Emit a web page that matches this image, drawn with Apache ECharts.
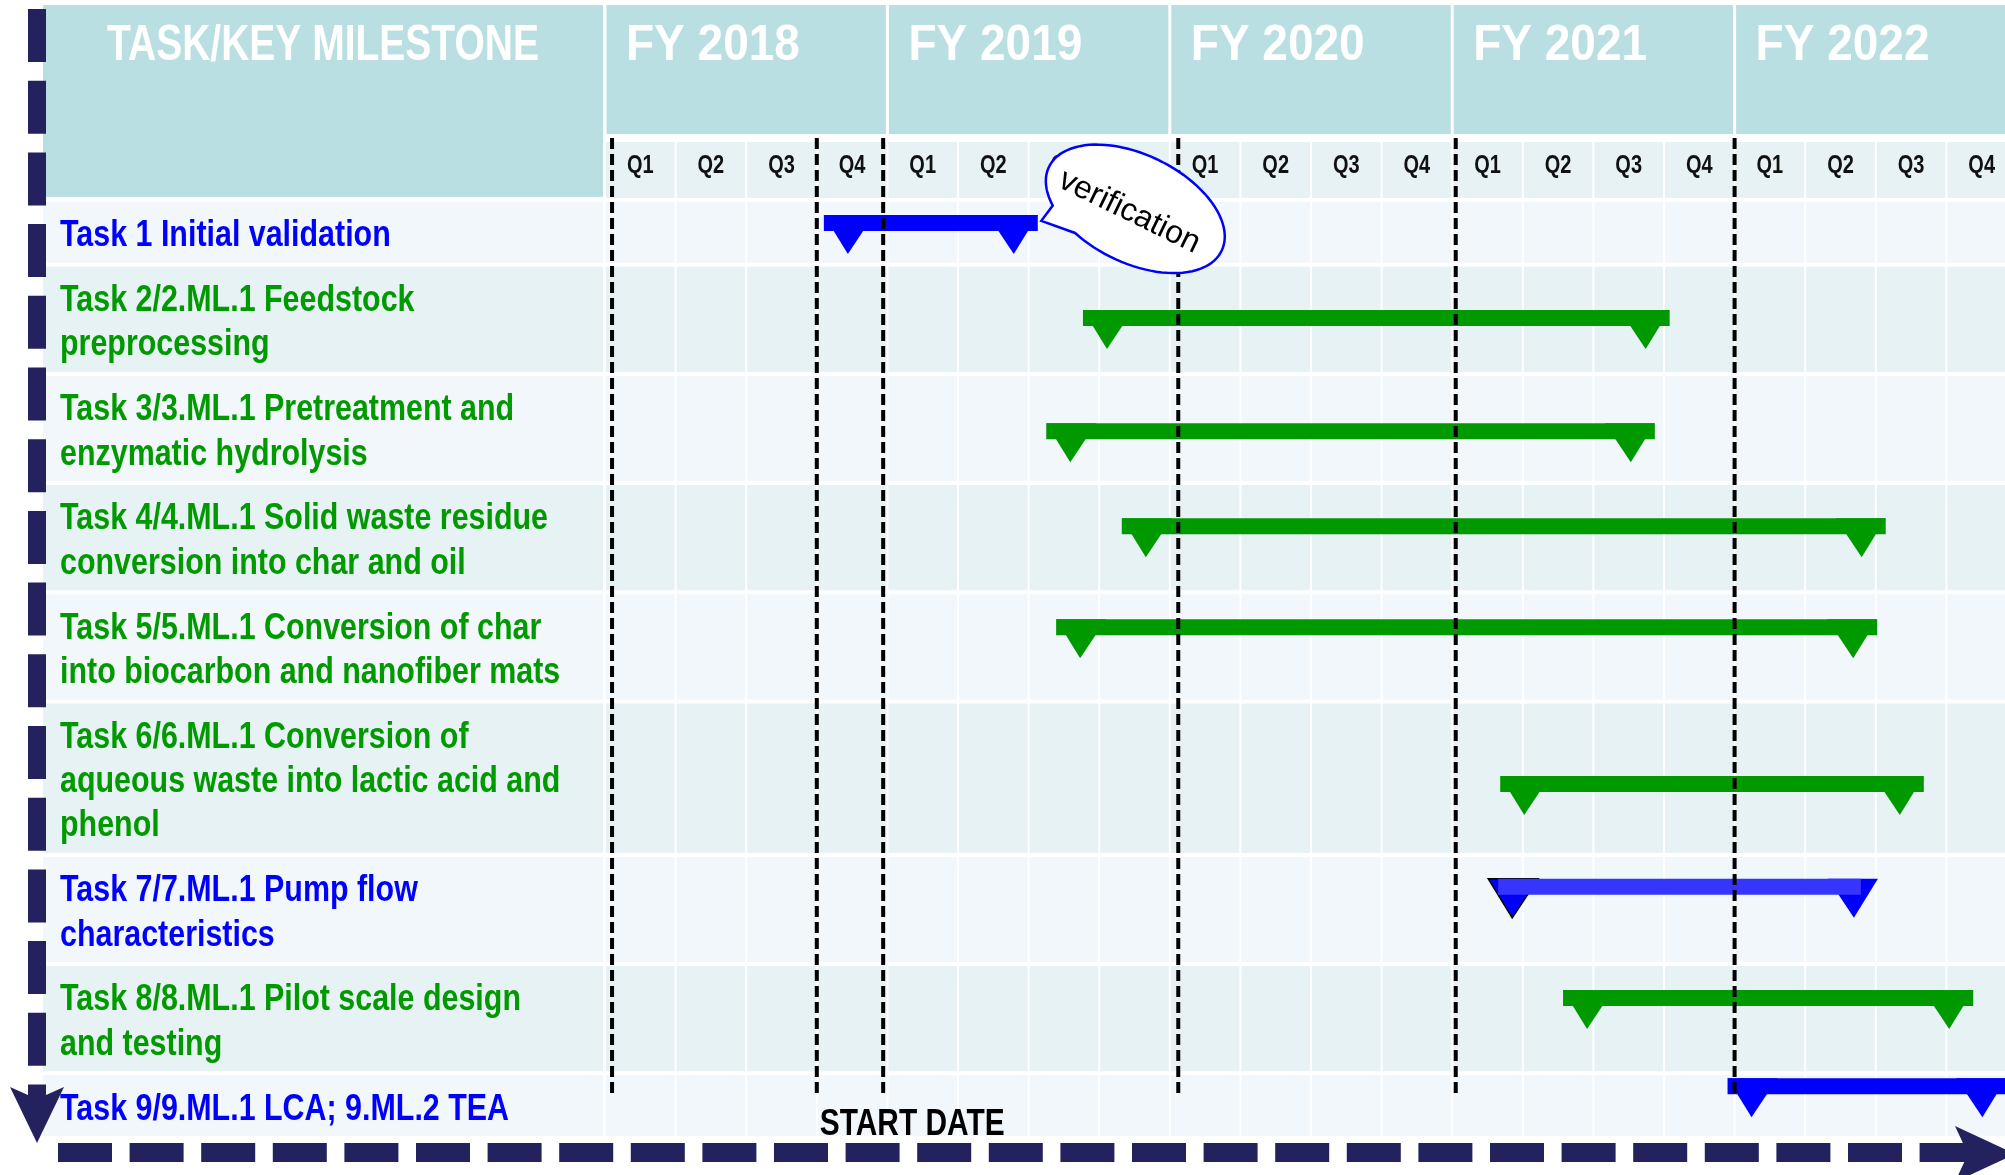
<!DOCTYPE html>
<html>
<head>
<meta charset="utf-8">
<title>Task / key milestone schedule</title>
<script src="https://cdn.jsdelivr.net/npm/echarts@6/dist/echarts.min.js"></script>
<style>
  html, body { margin: 0; padding: 0; background: #fff; }
  #chart { width: 2005px; height: 1175px; }
</style>
</head>
<body>
<div id="chart"></div>
<script>
// fiscal years and quarters along the top
const years = ['FY 2018', 'FY 2019', 'FY 2020', 'FY 2021', 'FY 2022'];
const quarters = ['Q1', 'Q2', 'Q3', 'Q4'];

// task rows, broken into lines as on the slide
const tasks = [
  'Task 1 Initial validation',
  'Task 2/2.ML.1 Feedstock\npreprocessing',
  'Task 3/3.ML.1 Pretreatment and\nenzymatic hydrolysis',
  'Task 4/4.ML.1 Solid waste residue\nconversion into char and oil',
  'Task 5/5.ML.1 Conversion of char\ninto biocarbon and nanofiber mats',
  'Task 6/6.ML.1 Conversion of\naqueous waste into lactic acid and\nphenol',
  'Task 7/7.ML.1 Pump flow\ncharacteristics',
  'Task 8/8.ML.1 Pilot scale design\nand testing',
  'Task 9/9.ML.1 LCA; 9.ML.2 TEA'
];
const taskKind = ['blue', 'green', 'green', 'green', 'green', 'green', 'pump', 'green', 'blue'];

// bars: start / end in quarters from FY 2018 Q1, level on the row scale (1 = one text line)
const barStart = [3.1, 6.77, 6.25, 7.32, 6.39, 12.68, 12.51, 13.57, 15.9];
const barEnd = [6.13, 15.08, 14.87, 18.14, 18.02, 18.68, 18.03, 19.38, 19.85];
const barLevel = [0.52, 2.66, 5.22, 7.36, 9.64, 13.18, 15.5, 18.01, 20.0];

// dashed date lines (quarters) and their labels
const dateLines = [0.1, 3.0, 3.94, 8.12, 12.05, 16.0];
const startDate = [3.0, 20.83];
const callout = ['verification', 6.18, 0.47];

const FONT = '"Liberation Sans", Arial, Helvetica, sans-serif';
const TEAL = '#badfe2';
const ROW_LIGHT = '#f1f7fa';
const ROW_DARK = '#e6f2f4';
const NAVY = '#23225f';
const TEXT_COLOR = { blue: '#0000ff', green: '#009900', pump: '#0000ff' };
const BAR_STYLE = {
  blue: { bar: '#0000ff', mark: '#0000ff' },
  green: { bar: '#009900', mark: '#009900' },
  pump: { bar: '#3535ff', mark: '#0000ff', outline: '#000' }
};

// row heights follow the number of label lines
const ROW_PAD = 0.463;
const rowLines = tasks.map(t => t.split('\n').length);
const rowTop = [];
let acc = 0;
rowLines.forEach(n => { rowTop.push(acc); acc += n + ROW_PAD; });
const rowsTotal = acc;
const LINE_END = 20.25;

const chart = echarts.init(document.getElementById('chart'));

const renderHeader = (params, api) => {
  const i = api.value(0);
  const x0 = api.coord([i * 4, 0])[0];
  const x1 = api.coord([i * 4 + 4, 0])[0];
  const children = [
    { type: 'rect', shape: { x: x0 + 1.5, y: 5, width: x1 - x0 - 3, height: 129 }, style: { fill: TEAL } },
    {
      type: 'text', x: x0 + 21, y: 46, scaleX: 0.92,
      style: { text: years[i], fill: '#fff', font: 'bold 50px ' + FONT, verticalAlign: 'middle' }
    }
  ];
  quarters.forEach((q, k) => {
    const a = api.coord([i * 4 + k, 0])[0];
    const b = api.coord([i * 4 + k + 1, 0])[0];
    children.push({ type: 'rect', shape: { x: a + 1, y: 142, width: b - a - 2, height: 56 }, style: { fill: ROW_DARK } });
    children.push({
      type: 'text', x: (a + b) / 2, y: 166, scaleX: 0.8,
      style: { text: q, fill: '#111', font: 'bold 25px ' + FONT, align: 'center', verticalAlign: 'middle' }
    });
  });
  return { type: 'group', children };
};

const renderRow = (params, api) => {
  const i = params.dataIndex;
  const top = api.coord([0, rowTop[i]])[1];
  const bottom = api.coord([0, rowTop[i] + rowLines[i] + ROW_PAD])[1];
  const fill = i % 2 === 0 ? ROW_LIGHT : ROW_DARK;
  const children = [
    { type: 'rect', shape: { x: 43, y: top + 2, width: 560, height: bottom - top - 4 }, style: { fill } }
  ];
  for (let q = 0; q < years.length * 4; q++) {
    const a = api.coord([q, 0])[0];
    const b = api.coord([q + 1, 0])[0];
    children.push({ type: 'rect', shape: { x: a + 1, y: top + 2, width: b - a - 2, height: bottom - top - 4 }, style: { fill } });
  }
  children.push({
    type: 'text', x: 60, y: (top + bottom) / 2 + 4, scaleX: 0.845,
    style: {
      text: tasks[i], fill: TEXT_COLOR[taskKind[i]], font: 'bold 36px ' + FONT,
      lineHeight: 44.3, verticalAlign: 'middle'
    }
  });
  return { type: 'group', children };
};

const renderBar = (params, api) => {
  const i = params.dataIndex;
  const p0 = api.coord([api.value(0), api.value(2)]);
  const p1 = api.coord([api.value(1), api.value(2)]);
  const st = BAR_STYLE[taskKind[i]];
  const top = p0[1] - 8;
  const w = 50, d = 39, tip = 24;
  const markStyle = { fill: st.mark };
  const leftStyle = st.outline ? { fill: st.mark, stroke: st.outline, lineWidth: 1.5 } : markStyle;
  const inset = st.outline ? [10, 17] : [0, 0];
  return {
    type: 'group',
    children: [
      { type: 'polygon', shape: { points: [[p0[0], top], [p0[0] + w, top], [p0[0] + tip, top + d]] }, style: leftStyle },
      { type: 'polygon', shape: { points: [[p1[0] - w, top], [p1[0], top], [p1[0] - tip, top + d]] }, style: markStyle },
      { type: 'rect', shape: { x: p0[0] + inset[0], y: top, width: p1[0] - p0[0] - inset[0] - inset[1], height: 16 }, style: { fill: st.bar } }
    ]
  };
};

const renderDateLine = (params, api) => {
  const x = api.coord([api.value(0), 0])[0];
  const yEnd = api.coord([0, LINE_END])[1];
  return {
    type: 'line',
    shape: { x1: x, y1: 138, x2: x, y2: yEnd },
    style: { stroke: '#000', lineWidth: 4, lineDash: [11, 5] }
  };
};

const renderStartLabel = (params, api) => {
  const p = api.coord([api.value(0), api.value(1)]);
  return {
    type: 'text', x: p[0] + 3, y: p[1] + 2, scaleX: 0.83,
    style: { text: 'START DATE', fill: '#000', font: 'bold 36px ' + FONT, verticalAlign: 'middle' }
  };
};

const renderCallout = (params, api) => {
  const tip = api.coord([api.value(1), api.value(2)]);
  const cx = tip[0] + 94, cy = tip[1] - 12;
  const a = 96, b = 54, th = 26 * Math.PI / 180;
  const toGlobal = (lx, ly) => [
    cx + lx * Math.cos(th) - ly * Math.sin(th),
    cy + lx * Math.sin(th) + ly * Math.cos(th)
  ];
  const t1 = 142 * Math.PI / 180, t2 = 117 * Math.PI / 180;
  const span = 2 * Math.PI - (t1 - t2);
  const pts = [tip];
  const N = 90;
  for (let s = 0; s <= N; s++) {
    const t = t2 - s * span / N;
    pts.push(toGlobal(a * Math.cos(t), b * Math.sin(t)));
  }
  return {
    type: 'group',
    children: [
      { type: 'polygon', shape: { points: pts }, style: { fill: '#fff', stroke: '#0000ff', lineWidth: 2.5 } },
      {
        type: 'text', x: cx - 6, y: cy + 3, rotation: -th,
        style: { text: callout[0], fill: '#000', font: '32px ' + FONT, align: 'center', verticalAlign: 'middle' }
      }
    ]
  };
};

const option = {
  animation: false,
  backgroundColor: '#fff',
  grid: { left: 605, top: 200, width: 1412, height: 938, outerBoundsMode: 'none', containLabel: false },
  xAxis: { type: 'value', min: 0, max: 20, show: false },
  yAxis: { type: 'value', min: 0, max: rowsTotal, inverse: true, show: false },
  graphic: [
    { type: 'rect', z: 1, shape: { x: 43, y: 5, width: 560, height: 192 }, style: { fill: TEAL } },
    {
      type: 'text', z: 1, x: 323, y: 46, scaleX: 0.78,
      style: { text: 'TASK/KEY MILESTONE', fill: '#fff', font: 'bold 50px ' + FONT, align: 'center', verticalAlign: 'middle' }
    },
    // navy dashed frame with arrow heads
    { type: 'line', z: 50, shape: { x1: 37, y1: 9, x2: 37, y2: 1110 }, style: { stroke: NAVY, lineWidth: 18, lineDash: [53, 18.7] } },
    { type: 'polygon', z: 50, shape: { points: [[10, 1087], [37, 1099], [64, 1087], [37, 1143]] }, style: { fill: NAVY } },
    { type: 'line', z: 50, shape: { x1: 58, y1: 1152.5, x2: 1975, y2: 1152.5 }, style: { stroke: NAVY, lineWidth: 19, lineDash: [54, 17.6] } },
    { type: 'polygon', z: 50, shape: { points: [[1955, 1126], [2015, 1154], [1955, 1182], [1968, 1154]] }, style: { fill: NAVY } }
  ],
  series: [
    { type: 'custom', name: 'header', z: 1, silent: true, data: years.map((_, i) => [i, 0]), renderItem: renderHeader },
    { type: 'custom', name: 'rows', z: 1, silent: true, data: tasks.map((_, i) => [i, 0]), renderItem: renderRow },
    {
      type: 'custom', name: 'bars', z: 2, silent: true,
      data: tasks.map((_, i) => [barStart[i], barEnd[i], barLevel[i]]),
      encode: { x: [0, 1], y: 2 },
      renderItem: renderBar
    },
    { type: 'custom', name: 'date lines', z: 3, silent: true, data: dateLines.map(v => [v, 0]), renderItem: renderDateLine },
    { type: 'custom', name: 'start', z: 3, silent: true, data: [startDate], renderItem: renderStartLabel },
    { type: 'custom', name: 'callout', z: 4, silent: true, data: [callout], encode: { x: 1, y: 2 }, renderItem: renderCallout }
  ]
};

chart.setOption(option);
window.addEventListener('resize', () => chart.resize());
</script>
</body>
</html>
